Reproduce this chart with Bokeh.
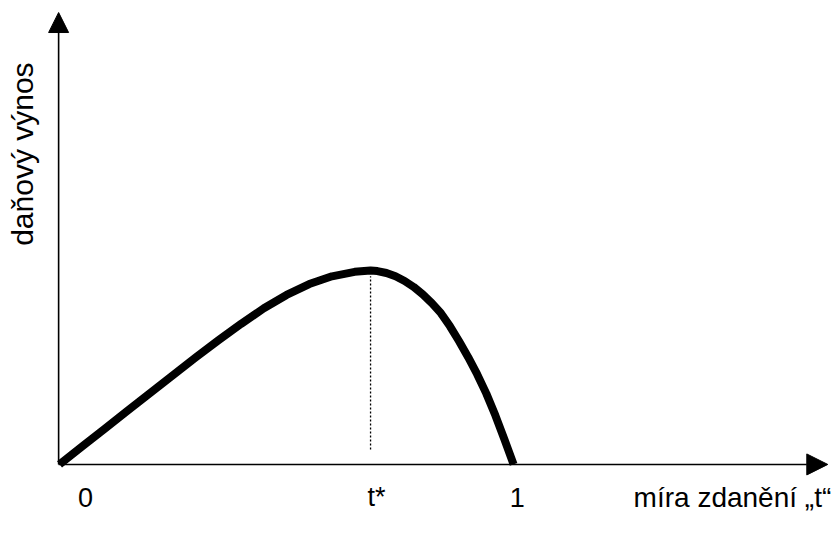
import math

from bokeh.core.properties import value
from bokeh.embed import file_html
from bokeh.models import Arrow, NormalHead, Range1d
from bokeh.plotting import figure
from bokeh.resources import INLINE

# Laffer curve: tax revenue (relative to its maximum) against the tax rate t
tax_rate = [0.000, 0.050, 0.100, 0.150, 0.200, 0.250, 0.300, 0.350, 0.400,
            0.450, 0.500, 0.550, 0.600, 0.650, 0.685, 0.700, 0.720, 0.740,
            0.760, 0.780, 0.800, 0.820, 0.840, 0.860, 0.880, 0.900, 0.920,
            0.940, 0.960, 0.980, 1.000]
revenue = [0.000, 0.093, 0.185, 0.277, 0.369, 0.461, 0.552, 0.640, 0.725,
           0.805, 0.874, 0.930, 0.970, 0.993, 1.000, 0.997, 0.987, 0.970,
           0.946, 0.915, 0.877, 0.832, 0.780, 0.712, 0.635, 0.553, 0.464,
           0.365, 0.252, 0.128, 0.000]

t_star = tax_rate[revenue.index(max(revenue))]

tick_positions = [0.0, t_star, 1.0]
tick_labels = ["0", "t*", "1"]
x_title = "míra zdanění „t“"
y_title = "daňový výnos"

FONT = value("Liberation Sans")

p = figure(width=840, height=533, output_backend="svg", toolbar_location=None,
           x_range=Range1d(-0.130, 1.720), y_range=Range1d(-0.356, 2.392),
           min_border=0)
p.axis.visible = False
p.grid.visible = False
p.outline_line_color = None
p.background_fill_color = "white"
p.border_fill_color = "white"

# axes drawn as arrows from the origin
head_x = NormalHead(size=21, fill_color="black", line_color="black")
head_y = NormalHead(size=20, fill_color="black", line_color="black")
p.add_layout(Arrow(x_start=-0.002, y_start=0, x_end=1.692, y_end=0,
                   line_color="black", line_width=1.6, end=head_x))
p.add_layout(Arrow(x_start=-0.002, y_start=0, x_end=-0.002, y_end=2.330,
                   line_color="black", line_width=1.6, end=head_y))

# dotted drop line from the revenue maximum
p.segment(x0=[t_star], y0=[0.077], x1=[t_star], y1=[max(revenue) - 0.03],
          line_color="black", line_width=1.3, line_dash="2 2")

# the curve
p.line(tax_rate, revenue, line_color="black", line_width=8,
       line_join="round", line_cap="butt")

# labels under the horizontal axis
label_y = -0.170
p.text(x=[tick_positions[0] + 0.057, tick_positions[1] + 0.013, tick_positions[2] + 0.008],
       y=[label_y] * 3, text=tick_labels, text_font=FONT, text_font_size="27px",
       text_align="center", text_baseline="alphabetic", text_color="black")

p.text(x=[1.482], y=[label_y], text=[x_title], text_font=FONT,
       text_font_size="28px", text_align="center", text_baseline="alphabetic",
       text_color="black")

p.text(x=[-0.0815], y=[1.60], text=[y_title], text_font=FONT,
       text_font_size="30px", text_align="center", text_baseline="middle",
       angle=math.pi / 2, text_color="black")

open("out.html", "w").write(file_html(p, INLINE))
